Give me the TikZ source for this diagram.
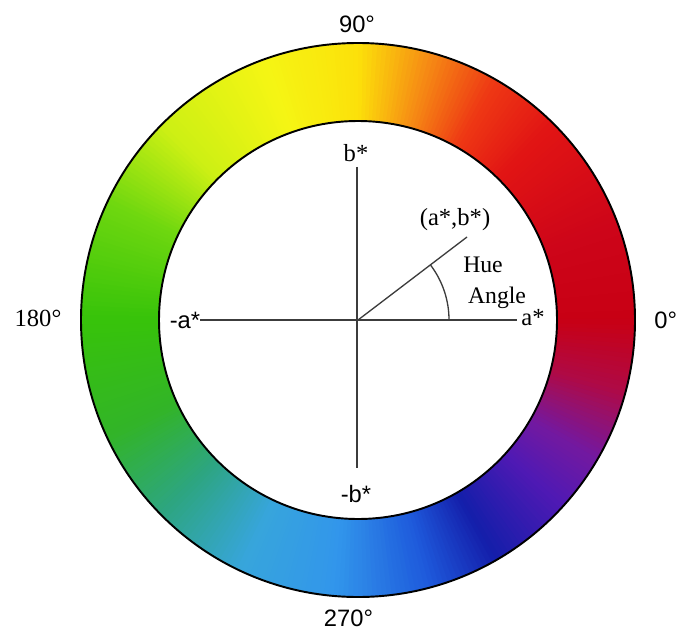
\documentclass[tikz,border=0pt]{standalone}
\usepackage{fontspec}
\setmainfont{Liberation Serif}
\setsansfont{Liberation Sans}
\definecolor{k0}{RGB}{200,0,20}
\definecolor{k1}{RGB}{205,5,25}
\definecolor{k2}{RGB}{225,20,20}
\definecolor{k3}{RGB}{238,55,20}
\definecolor{k4}{RGB}{246,140,20}
\definecolor{k5}{RGB}{252,225,10}
\definecolor{k6}{RGB}{245,245,20}
\definecolor{k7}{RGB}{205,240,20}
\definecolor{k8}{RGB}{110,215,15}
\definecolor{k9}{RGB}{55,195,10}
\definecolor{k10}{RGB}{50,180,40}
\definecolor{k11}{RGB}{45,165,130}
\definecolor{k12}{RGB}{55,165,220}
\definecolor{k13}{RGB}{50,150,235}
\definecolor{k14}{RGB}{30,90,220}
\definecolor{k15}{RGB}{20,30,170}
\definecolor{k16}{RGB}{80,25,180}
\definecolor{k17}{RGB}{115,25,160}
\definecolor{k18}{RGB}{175,10,70}
\definecolor{axisgray}{RGB}{60,60,60}
\tikzset{
  lbl/.style={inner sep=0pt, font=\fontsize{14}{16}\selectfont},
  slbl/.style={inner sep=0pt, font=\sffamily\fontsize{13.5}{16}\selectfont},
  hlbl/.style={inner sep=0pt, font=\fontsize{13.5}{15}\selectfont},
  axisline/.style={draw=axisgray, line width=0.75pt},
  rim/.style={draw=black, line width=1.1pt}
}
\begin{document}
\begin{tikzpicture}
\useasboundingbox (0,0) rectangle (13.58,12.58);
\fill[white] (0,0) rectangle (13.58,12.58);
\coordinate (O) at (7.16,6.18);
\begin{scope}[shift={(7.16,6.18)}]
\foreach \aA/\cA/\aB/\cB in {0/k0/20/k1, 20/k1/45/k2, 45/k2/60/k3, 60/k3/75/k4, 75/k4/90/k5, 90/k5/110/k6, 110/k6/135/k7, 135/k7/155/k8, 155/k8/180/k9, 180/k9/205/k10, 205/k10/225/k11, 225/k11/245/k12, 245/k12/265/k13, 265/k13/285/k14, 285/k14/300/k15, 300/k15/318/k16, 318/k16/330/k17, 330/k17/345/k18, 345/k18/360/k0}{
  \pgfmathtruncatemacro\n{\aB-\aA}
  \foreach \i in {1,...,\n}{
    \pgfmathsetmacro\p{100*(\i-0.5)/\n}
    \pgfmathsetmacro\s{\aA+\i-1}
    \pgfmathsetmacro\e{\s+1.3}
    \fill[\cB!\p!\cA] (\s:5.54cm) arc[start angle=\s,end angle=\e,radius=5.54cm] -- (\e:3.98cm) arc[start angle=\e,end angle=\s,radius=3.98cm] -- cycle;
  }
}
\draw[rim] (0,0) circle[radius=5.54cm];
\draw[rim] (0,0) circle[radius=3.98cm];
\end{scope}
% degree labels
\node[slbl] (d90) at (7.14,12.10) {90°};
\node[lbl] (d180) at (0.76,6.22) {180°};
\node[slbl, anchor=east] (d0) at (13.55,6.18) {0°};
\node[slbl] (d270) at (6.97,0.22) {270°};
% axis labels
\node[lbl] (bp) at (7.12,9.52) {b*};
\node[slbl] (bm) at (7.12,2.70) {-b*};
\node[slbl] (am) at (3.70,6.18) {-a*};
\node[lbl] (ap) at (10.66,6.22) {a*};
\node[lbl] (ab) at (9.10,8.18) {(a*,b*)};
\node[hlbl] (hue) at (9.66,7.28) {Hue};
\node[hlbl] (angle) at (9.94,6.62) {Angle};
% axes
\coordinate (vt) at (7.14,9.24);
\coordinate (vb) at (7.14,3.22);
\coordinate (hl) at (4.0,6.18);
\coordinate (hr) at (10.34,6.18);
\coordinate (P) at (9.34,7.84);
\draw[axisline] (hl) -- (hr);
\draw[axisline] (vt) -- (vb);
\draw[axisline] (O) -- (P);
\draw[axisline] ([shift={(0:1.82)}]O) arc[start angle=0,end angle=37,radius=1.82];
\end{tikzpicture}
\end{document}
